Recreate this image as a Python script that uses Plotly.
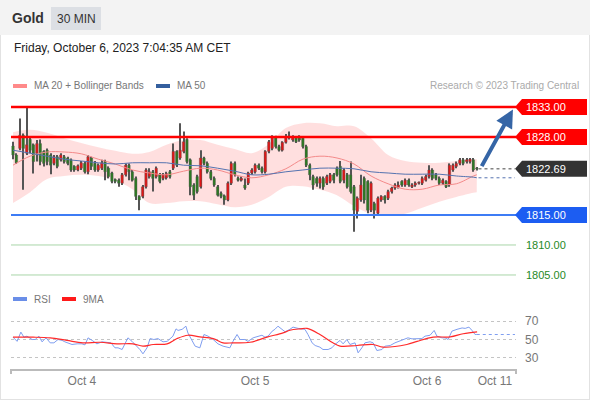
import plotly.graph_objects as go

W, H = 590, 400

# ---------------- data ----------------
opens = [1826.5,1825.0,1826.1,1828.3,1825.3,1827.6,1826.7,1825.3,1826.9,1825.6,
         1825.8,1825.0,1823.6,1824.7,1824.2,1824.7,1824.5,1824.2,1823.1,1822.5,
         1822.8,1823.6,1822.2,1824.5,1823.6,1822.5,1822.8,1823.9,1822.8,1822.0,
         1820.9,1820.8,1820.3,1821.7,1823.3,1822.2,1821.1,1818.1,1818.1,1819.7,
         1821.4,1822.2,1821.4,1821.7,1821.1,1821.2,1822.2,1822.8,1825.6,1824.5,
         1825.6,1827.6,1824.2,1820.0,1821.4,1819.7,1824.5,1823.6,1822.2,1821.1,
         1819.7,1818.6,1818.2,1817.5,1820.3,1823.6,1821.1,1820.8,1820.0,1820.3,
         1822.0,1822.2,1823.3,1822.8,1822.2,1825.6,1826.1,1827.9,1826.4,1825.8,
         1827.1,1827.9,1827.5,1827.9,1828.1,1827.8,1826.4,1823.3,1821.4,1821.1,
         1820.3,1821.1,1820.3,1820.6,1821.7,1822.8,1823.1,1820.8,1821.7,1821.7,
         1819.7,1815.6,1817.5,1821.1,1820.6,1815.8,1816.9,1815.3,1817.5,1818.1,
         1817.8,1818.9,1819.5,1819.6,1820.6,1820.0,1820.8,1819.7,1820.0,1820.3,
         1820.3,1820.8,1821.4,1822.5,1821.7,1821.1,1820.3,1820.6,1820.0,1822.5,
         1823.1,1823.6,1824.2,1823.9,1823.9,1824.2,1822.8]
highs = [1827.2,1825.3,1831.1,1828.6,1833.1,1828.1,1826.9,1827.5,1827.6,1825.8,
         1826.1,1825.3,1825.0,1825.0,1825.3,1825.0,1824.7,1824.4,1823.3,1823.4,
         1824.0,1823.9,1825.0,1824.7,1824.0,1823.6,1824.2,1824.2,1823.1,1822.2,
         1821.1,1821.1,1822.0,1823.6,1823.6,1822.5,1821.4,1818.3,1820.0,1822.8,
         1822.8,1822.5,1823.1,1822.0,1822.0,1822.2,1822.5,1826.9,1825.8,1830.3,
         1828.9,1827.8,1824.4,1820.3,1821.7,1825.8,1824.7,1823.9,1822.5,1821.4,
         1820.0,1818.9,1818.4,1820.6,1823.9,1823.9,1821.4,1821.4,1821.1,1822.2,
         1822.8,1823.6,1823.6,1823.1,1825.8,1827.5,1828.3,1828.2,1826.7,1827.3,
         1828.5,1828.9,1828.3,1828.1,1828.3,1828.0,1826.7,1823.6,1821.7,1821.4,
         1821.4,1821.4,1821.7,1822.0,1822.0,1823.1,1824.0,1822.8,1822.0,1823.9,
         1820.0,1818.1,1821.7,1821.4,1820.8,1820.6,1817.2,1818.1,1818.3,1818.3,
         1819.2,1819.7,1820.3,1820.6,1820.8,1821.1,1821.1,1820.3,1820.6,1820.6,
         1821.4,1821.7,1823.3,1822.8,1822.0,1821.4,1821.1,1820.8,1823.6,1823.6,
         1823.9,1824.5,1824.5,1824.5,1824.5,1824.5,1823.0]
lows = [1824.3,1823.5,1825.8,1819.2,1825.0,1825.3,1821.9,1823.9,1823.3,1823.1,
        1823.3,1821.8,1823.3,1822.8,1823.9,1823.6,1823.3,1822.2,1822.2,1822.3,
        1822.5,1821.9,1821.8,1822.5,1822.2,1822.2,1822.5,1820.8,1821.1,1820.3,
        1820.3,1819.7,1820.0,1821.4,1820.8,1820.6,1817.5,1815.8,1817.8,1819.4,
        1821.1,1818.9,1821.1,1820.3,1820.8,1820.9,1821.1,1822.5,1823.0,1824.2,
        1825.3,1823.6,1818.3,1817.5,1818.6,1819.4,1823.3,1821.9,1820.8,1819.7,
        1818.1,1817.8,1816.7,1817.3,1820.0,1821.4,1820.6,1820.6,1819.2,1820.0,
        1821.7,1821.9,1822.5,1821.9,1821.9,1825.3,1825.8,1826.1,1825.6,1825.6,
        1826.9,1827.6,1827.2,1827.0,1827.2,1826.1,1823.0,1820.8,1819.2,1819.7,
        1819.4,1819.2,1820.0,1820.3,1820.3,1821.4,1820.3,1820.3,1819.4,1818.6,
        1812.2,1814.4,1817.2,1816.9,1815.3,1815.5,1814.4,1815.0,1817.2,1816.9,
        1817.5,1818.6,1819.2,1819.4,1819.7,1819.7,1819.7,1819.5,1819.7,1820.1,
        1820.0,1820.6,1821.1,1820.8,1820.8,1820.0,1820.0,1819.5,1819.7,1822.2,
        1822.8,1823.3,1823.3,1823.6,1823.6,1822.2,1822.4]
closes = [1825.0,1823.7,1828.3,1826.1,1826.7,1825.8,1823.9,1826.9,1823.9,1823.6,
          1823.9,1823.3,1824.7,1823.1,1825.0,1823.9,1823.6,1822.5,1822.5,1823.2,
          1823.7,1822.2,1824.7,1823.1,1822.5,1823.3,1823.7,1822.2,1821.4,1820.6,
          1820.6,1820.3,1821.7,1823.3,1822.2,1820.8,1818.1,1817.5,1819.7,1822.5,
          1822.2,1821.1,1822.8,1820.6,1821.7,1821.9,1821.4,1825.6,1823.3,1825.8,
          1827.2,1823.9,1819.7,1818.3,1818.9,1824.5,1823.6,1822.2,1821.1,1820.0,
          1818.3,1818.1,1817.5,1820.3,1823.6,1821.7,1820.8,1821.1,1819.5,1822.0,
          1822.5,1823.3,1822.8,1822.2,1825.6,1827.2,1827.9,1826.4,1825.8,1827.1,
          1827.9,1828.1,1828.1,1827.2,1827.5,1826.4,1823.3,1821.7,1820.0,1820.3,
          1821.1,1819.7,1821.4,1821.7,1820.8,1821.7,1820.6,1822.5,1819.7,1818.9,
          1815.8,1817.8,1820.0,1817.5,1815.8,1820.3,1815.8,1817.8,1818.1,1817.5,
          1818.9,1819.5,1820.0,1820.0,1820.0,1820.8,1820.0,1820.0,1820.3,1820.4,
          1821.1,1821.4,1822.5,1821.1,1821.1,1820.3,1820.8,1819.7,1823.3,1823.3,
          1823.6,1824.2,1823.6,1824.2,1824.3,1822.5,1822.69]

# indicator readings (candle index -> value)
ind_t = [0,5,10,15,20,25,30,35,40,45,50,55,60,65,70,75,80,85,90,95,100,105,110,115,120,125,130,135,136]
bb_upper = [1828.8,1829.2,1828.7,1827.8,1827.0,1826.3,1825.7,1825.2,1825.5,1826.7,1827.5,1827.5,1826.7,1826.0,1825.3,
            1826.8,1829.5,1830.3,1830.3,1829.8,1829.8,1827.8,1825.0,1824.0,1823.7,1823.7,1824.0,1824.3,1824.3]
bb_lower = [1817.0,1818.8,1821.0,1821.5,1821.7,1821.5,1820.8,1819.3,1817.0,1817.0,1817.3,1817.3,1816.8,1816.3,1816.7,
            1818.0,1819.7,1819.8,1819.2,1818.3,1816.5,1815.2,1815.0,1815.2,1816.2,1817.2,1818.0,1818.7,1818.8]
ma20 = [1823.3,1824.8,1825.5,1825.5,1825.2,1824.3,1823.5,1822.5,1822.0,1821.7,1822.3,1822.8,1822.5,1821.7,1821.2,
        1821.7,1822.7,1824.3,1824.8,1824.5,1823.5,1821.5,1820.2,1819.3,1819.3,1820.0,1820.2,1821.5,1821.7]
ma50 = [1825.8,1825.3,1824.8,1824.3,1824.0,1823.7,1823.5,1823.7,1823.7,1823.7,1823.3,1823.2,1822.8,1822.3,1821.7,
        1821.8,1822.2,1822.5,1822.8,1822.8,1822.7,1822.2,1822.0,1821.8,1821.8,1821.8,1821.5,1821.3,1821.2]

rsi_t = [0.0,1.2,2.3,3.2,4.1,5.6,6.5,7.6,8.5,9.7,10.9,12.0,13.2,14.4,15.2,16.1,17.3,18.8,20.2,21.1,
         22.0,23.2,24.6,26.1,27.6,28.7,29.9,30.8,32.0,33.1,33.7,34.9,36.4,37.2,38.1,39.3,40.2,41.3,42.5,44.0,
         45.2,46.0,46.9,47.8,48.4,49.6,50.7,51.3,52.5,53.4,54.8,56.0,57.2,58.7,60.1,61.6,63.6,64.5,65.7,66.6,
         68.0,68.9,70.4,71.8,73.0,73.9,74.8,76.0,76.8,77.7,78.9,79.8,81.2,82.1,83.6,85.6,86.5,87.7,88.6,90.0,
         90.9,92.4,93.5,94.4,95.9,96.8,97.9,98.8,100.3,101.2,102.3,103.2,104.7,105.6,106.7,108.2,109.1,110.6,112.0,112.9,
         114.4,115.8,117.0,118.5,119.9,120.8,122.3,123.5,124.3,125.8,126.7,127.6,128.7,130.2,131.7,132.6,133.7,134.6,135.5,136.0]
rsi_v = [52.5,48,58,52.5,53.6,50,50,53.6,47.5,51.8,46.4,46.4,50,49,47.5,46.4,44.6,45.3,45.3,44.2,
         51.8,49,45.3,47.5,46.4,46.4,41,41,39.2,47.5,51.8,48,42.8,39.2,34.5,41,51,50,51,47.5,
         48,51,53.6,61.5,59.8,61,64.4,57,48,42.8,41,55.4,53.6,50,45.3,42.8,41,48,55.4,50,
         50,48,51.8,53.6,54.6,52.5,53.6,59,61,64.4,61,58.3,61,63.4,62,61,55.4,46.4,43.5,41.7,
         39.2,39.2,41,44.6,49,45.3,50,44.6,46.4,35.6,41,46.4,47.5,46.4,38.1,39.2,42.8,43.5,46.4,47.5,
         50,51.8,50.7,50.7,51,53.6,54.6,59.8,53.6,51.8,51.8,50,59,61,62.5,62,63.4,59.8,55.4,55.4]
ma9_t = [0,5.9,10.9,15.8,20.5,25.5,30.5,35.2,38.1,41.1,45.2,48.1,51.3,54.8,58.7,61.6,64.5,69.5,74.5,79.2,
         81.2,84.2,86.2,90.0,93.8,95.9,100.9,105.6,108.5,115.5,118.5,123.2,128.2,132.0,136.1]
ma9_v = [52.5,52.5,51.8,49,46.4,47,45.3,45.3,42.8,44.6,45.3,51,54.6,52.8,51,46.4,46.4,47,52.5,57.2,
         60,61.5,62,55.4,46.4,42.8,43.5,44.6,41.7,44.6,48,52.5,52.8,56.2,58.3]

levels = [1833.00, 1828.00, 1815.00, 1810.00, 1805.00]
level_kind = ["res", "res", "sup", "minor", "minor"]
last_price = 1822.69
target_t, target_price = 146.6, 1832.6

tick_pos = [20.2, 71.0, 121.4, 141.3]
tick_labels = ["Oct 4", "Oct 5", "Oct 6", "Oct 11"]
rsi_ticks = [30, 50, 70]

# ---------------- layout geometry ----------------
def PX(x): return x / W
def PY(y): return 1 - y / H

XR = [-0.59, 147.5]
YR = [1803.83, 1835.0]
MAIN_TOP, MAIN_BOT = 95, 282
RSI_TOP, RSI_BOT = 305, 369
RR = [18.1, 87.3]
xdom = [PX(11), PX(516)]
units_per_px = (YR[1] - YR[0]) / (MAIN_BOT - MAIN_TOP)

FONT = "Liberation Sans, Arial, sans-serif"
RED_UP = "#e01717"
GREEN_DN = "#2d7a22"

n = len(closes)
idx = list(range(n))
fig = go.Figure()

# Bollinger band fill (underneath subplot)
fig.add_trace(go.Scatter(x=ind_t, y=bb_upper, mode="lines", line=dict(width=0, shape="spline"),
                         hoverinfo="skip", showlegend=False, xaxis="x", yaxis="y"))
fig.add_trace(go.Scatter(x=ind_t, y=bb_lower, mode="lines", line=dict(width=0, shape="spline"),
                         fill="tonexty", fillcolor="rgba(255,185,185,0.45)",
                         hoverinfo="skip", showlegend=False, xaxis="x", yaxis="y"))

# candles on overlay subplot
wick_base = [l for l in lows]
wick_len = [h - l for h, l in zip(highs, lows)]
body_base = [min(o, c) for o, c in zip(opens, closes)]
body_len = [max(abs(c - o), 0.15) for o, c in zip(opens, closes)]
body_col = [RED_UP if c >= o else GREEN_DN for o, c in zip(opens, closes)]
fig.add_trace(go.Bar(x=idx, y=wick_len, base=wick_base, width=0.3, marker=dict(color="#555", line=dict(width=0)),
                     hoverinfo="skip", showlegend=False, xaxis="x3", yaxis="y3"))
fig.add_trace(go.Bar(x=idx, y=body_len, base=body_base, width=0.72,
                     marker=dict(color=body_col, line=dict(width=0.4, color="#555")),
                     hoverinfo="skip", showlegend=False, xaxis="x3", yaxis="y3"))
fig.add_trace(go.Scatter(x=ind_t, y=ma20, mode="lines", line=dict(color="#f48a8a", width=1, shape="spline"),
                         hoverinfo="skip", showlegend=False, xaxis="x3", yaxis="y3"))
fig.add_trace(go.Scatter(x=ind_t, y=ma50, mode="lines", line=dict(color="#5573b0", width=1, shape="spline"),
                         hoverinfo="skip", showlegend=False, xaxis="x3", yaxis="y3"))
# dotted projections
fig.add_trace(go.Scatter(x=[n - 1 + 0.5, XR[1] - 0.3], y=[last_price, last_price], mode="lines",
                         line=dict(color="#444", width=1, dash="dot"), hoverinfo="skip", showlegend=False,
                         xaxis="x3", yaxis="y3"))
fig.add_trace(go.Scatter(x=[n - 1 + 0.5, XR[1] - 0.3], y=[ma50[-1], ma50[-1]], mode="lines",
                         line=dict(color="#5573b0", width=1, dash="dot"), hoverinfo="skip", showlegend=False,
                         xaxis="x3", yaxis="y3"))

# RSI panel
fig.add_trace(go.Scatter(x=rsi_t, y=rsi_v, mode="lines", line=dict(color="#7f9ef0", width=1),
                         hoverinfo="skip", showlegend=False, xaxis="x2", yaxis="y2"))
fig.add_trace(go.Scatter(x=ma9_t, y=ma9_v, mode="lines", line=dict(color="#ff2a2a", width=1.2, shape="spline"),
                         hoverinfo="skip", showlegend=False, xaxis="x2", yaxis="y2"))
fig.add_trace(go.Scatter(x=[rsi_t[-1], XR[1] - 0.3], y=[rsi_v[-1], rsi_v[-1]], mode="lines",
                         line=dict(color="#7f9ef0", width=1, dash="dot"), hoverinfo="skip", showlegend=False,
                         xaxis="x2", yaxis="y2"))

shapes = []
annotations = []

# frame + header
shapes.append(dict(type="rect", xref="paper", yref="paper", x0=0, x1=1, y0=0, y1=1,
                   line=dict(color="#e2e2e2", width=2), fillcolor="rgba(0,0,0,0)", layer="below"))
shapes.append(dict(type="rect", xref="paper", yref="paper", x0=0, x1=1, y0=PY(35), y1=1,
                   line=dict(width=0), fillcolor="#f3f3f3", layer="below"))
shapes.append(dict(type="rect", xref="paper", yref="paper", x0=PX(51), x1=PX(101), y0=PY(30), y1=PY(7),
                   line=dict(width=0), fillcolor="#dcdfe4", layer="below"))
annotations.append(dict(text="<b>Gold</b>", x=PX(10), y=PY(18), xref="paper", yref="paper", xanchor="left",
                        yanchor="middle", showarrow=False, font=dict(size=14, color="#333", family=FONT)))
annotations.append(dict(text="30 MIN", x=PX(76), y=PY(18.5), xref="paper", yref="paper", xanchor="center",
                        yanchor="middle", showarrow=False, font=dict(size=12, color="#333", family=FONT)))
annotations.append(dict(text="Friday, October 6, 2023 7:04:35 AM CET", x=PX(12), y=PY(48), xref="paper",
                        yref="paper", xanchor="left", yanchor="middle", showarrow=False,
                        font=dict(size=12, color="#222", family=FONT)))

# legends
def legend_item(x0, y, color, text):
    shapes.append(dict(type="rect", xref="paper", yref="paper", x0=PX(x0), x1=PX(x0 + 14), y0=PY(y + 2),
                       y1=PY(y - 2), line=dict(width=0), fillcolor=color))
    annotations.append(dict(text=text, x=PX(x0 + 19), y=PY(y), xref="paper", yref="paper", xanchor="left",
                            yanchor="middle", showarrow=False, font=dict(size=10, color="#777", family=FONT)))

legend_item(13, 86, "#ff8a8a", "MA 20 + Bollinger Bands")
legend_item(156, 86, "#345f9e", "MA 50")
legend_item(13, 299, "#6a8ee8", "RSI")
legend_item(62, 299, "#ff1a1a", "9MA")
annotations.append(dict(text="Research © 2023 Trading Central", x=PX(581), y=PY(86), xref="paper", yref="paper",
                        xanchor="right", yanchor="middle", showarrow=False,
                        font=dict(size=10, color="#aaa", family=FONT)))

# level lines and labels
style = {"res": ("#ff0000", 2.5, "#ff0000"), "sup": ("#3d7cf5", 2, "#1c5df2"), "minor": ("#a8d5a8", 1, None)}
for lv, kind in zip(levels, level_kind):
    col, wd, box = style[kind]
    shapes.append(dict(type="line", xref="paper", yref="y", x0=xdom[0], x1=xdom[1], y0=lv, y1=lv,
                       line=dict(color=col, width=wd), layer="above"))
    if box:
        shapes.append(dict(type="path", xref="paper", yref="y", fillcolor=box, line=dict(width=0),
                           path=f"M {PX(515)},{lv} L {PX(522)},{lv + 8 * units_per_px} L {PX(587)},{lv + 8 * units_per_px} "
                                f"L {PX(587)},{lv - 8 * units_per_px} L {PX(522)},{lv - 8 * units_per_px} Z"))
        annotations.append(dict(text=f"{lv:.2f}", x=PX(524), y=lv, xref="paper", yref="y", xanchor="left",
                                yanchor="middle", showarrow=False, font=dict(size=11, color="white", family=FONT)))
    else:
        annotations.append(dict(text=f"{lv:.2f}", x=PX(524), y=lv, xref="paper", yref="y", xanchor="left",
                                yanchor="middle", showarrow=False, font=dict(size=11, color="#1f8a1f", family=FONT)))

# last price label
shapes.append(dict(type="path", xref="paper", yref="y", fillcolor="#333333", line=dict(width=0),
                   path=f"M {PX(515)},{last_price} L {PX(522)},{last_price + 8 * units_per_px} L {PX(587)},{last_price + 8 * units_per_px} "
                        f"L {PX(587)},{last_price - 8 * units_per_px} L {PX(522)},{last_price - 8 * units_per_px} Z"))
annotations.append(dict(text=f"{last_price:.2f}", x=PX(524), y=last_price, xref="paper", yref="y", xanchor="left",
                        yanchor="middle", showarrow=False, font=dict(size=11, color="white", family=FONT)))

# forecast arrow
annotations.append(dict(text="", x=target_t, y=target_price, xref="x3", yref="y3", ax=n + 0.2, ay=last_price + 0.2,
                        axref="x3", ayref="y3", showarrow=True, arrowhead=2, arrowsize=0.9, arrowwidth=4,
                        arrowcolor="#3565a6"))

# axis end ticks on RSI x-axis
for xp in (11, 516):
    shapes.append(dict(type="line", xref="paper", yref="paper", x0=PX(xp), x1=PX(xp), y0=PY(369), y1=PY(374),
                       line=dict(color="#bbb", width=2)))

fig.update_layout(
    width=W, height=H, margin=dict(l=0, r=0, t=0, b=0),
    paper_bgcolor="white", plot_bgcolor="rgba(0,0,0,0)",
    barmode="overlay", showlegend=False, font=dict(family=FONT),
    xaxis=dict(domain=xdom, range=XR, visible=False, fixedrange=True),
    yaxis=dict(domain=[PY(MAIN_BOT), PY(MAIN_TOP)], range=YR, visible=False, fixedrange=True),
    xaxis3=dict(domain=xdom, range=XR, visible=False, overlaying="x", anchor="y3"),
    yaxis3=dict(domain=[PY(MAIN_BOT), PY(MAIN_TOP)], range=YR, visible=False, overlaying="y", anchor="x3"),
    xaxis2=dict(domain=xdom, range=XR, anchor="y2", tickvals=tick_pos, ticktext=tick_labels,
                showline=True, linecolor="#bbb", linewidth=2, ticks="", showgrid=False, zeroline=False,
                tickfont=dict(size=12, color="#777", family=FONT)),
    yaxis2=dict(domain=[PY(RSI_BOT), PY(RSI_TOP)], range=RR, anchor="x2", side="right", tickvals=rsi_ticks,
                showgrid=True, gridcolor="#c4c4c4", griddash="dot", gridwidth=1, zeroline=False, showline=False,
                ticks="", ticklabelstandoff=8, tickfont=dict(size=12, color="#777", family=FONT)),
    shapes=shapes, annotations=annotations,
)

fig.write_html("out.html", config={"displayModeBar": False},
               post_script="document.body.style.margin='0';document.body.style.overflow='hidden';")
